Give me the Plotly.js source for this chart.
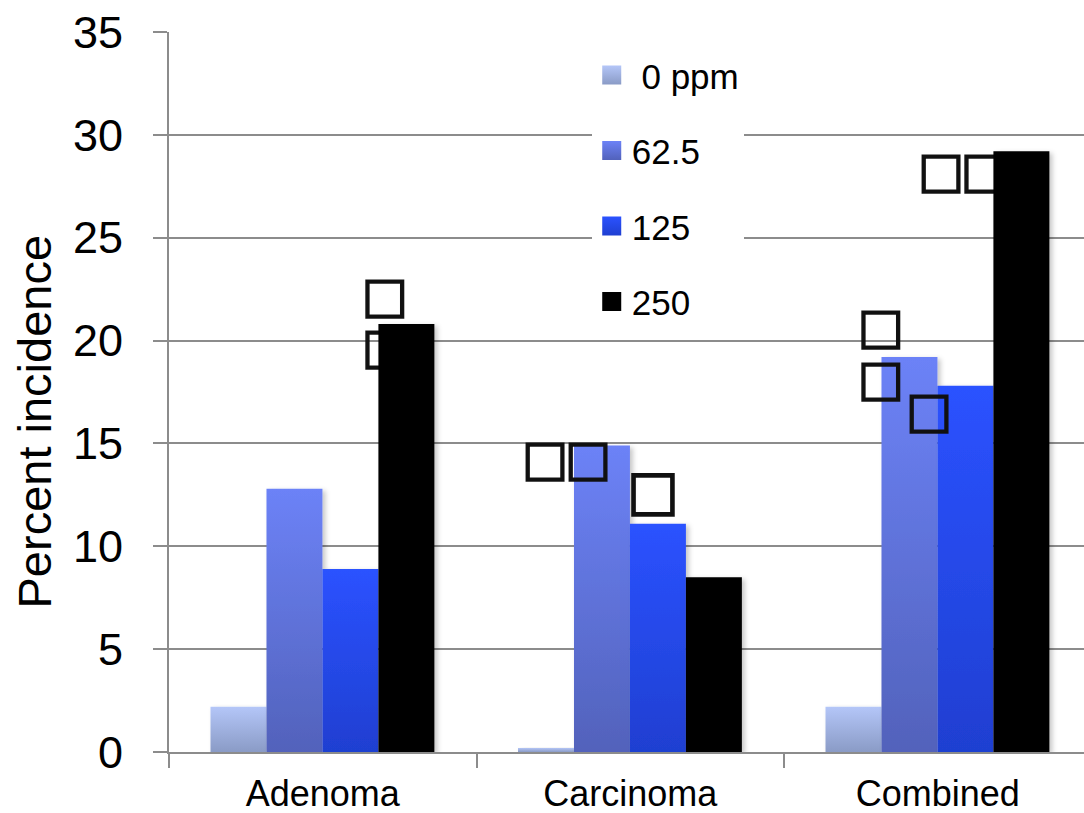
<!DOCTYPE html>
<html><head><meta charset="utf-8">
<script src="https://cdn.plot.ly/plotly-3.0.1.min.js"></script>
<style>html,body{margin:0;padding:0;background:#fff}</style>
</head><body>
<div id="chart" style="width:1084px;height:813px"></div>
<script>
// ---- data ----
const categories = ['Adenoma', 'Carcinoma', 'Combined'];
const seriesNames = ['\u00a00 ppm', '62.5', '125', '250'];
const ppm0   = [2.2, 0.2, 2.2];
const ppm62  = [12.8, 14.9, 19.2];
const ppm125 = [8.9, 11.1, 17.8];
const ppm250 = [20.8, 8.5, 29.2];
const yTickVals = [0, 5, 10, 15, 20, 25, 30, 35];
const yTitle = 'Percent incidence';
// significance markers (glyph boxes)
const markX = [0.202, 0.202, 0.723, 0.863, 1.074, 2.011, 2.150, 1.815, 1.815, 1.972];
const markY = [22.0, 19.5, 14.05, 14.05, 12.5, 28.05, 28.05, 20.5, 17.95, 16.4];
const markText = ['□','□','□','□','□','□','□','□','□','□'];
const markSize = [49, 49, 49, 49, 55, 49, 49, 49, 49, 49];

// ---- styles ----
const topColors = ['#b4c6f8', '#6c82f7', '#2b52ff', '#000000'];
const botColors = ['#8a9bc6', '#5262bb', '#1f3fd1', '#000000'];
const gray = '#8c8c8c';
const font = 'Liberation Sans, Arial, sans-serif';
const barW = 0.182;
const offsets = [-0.365, -0.183, -0.001, 0.181];
const seriesVals = [ppm0, ppm62, ppm125, ppm250];
const xIdx = categories.map((c, i) => i);

const traces = [];
// marker glyph text (under the 250 bars, above the others)
traces.push({
  type: 'scatter', mode: 'text', x: markX, y: markY, text: markText,
  textposition: 'middle center',
  textfont: {family: 'DejaVu Sans', size: markSize, color: '#111'},
  showlegend: false, hoverinfo: 'skip', xaxis: 'x', yaxis: 'y'
});
seriesVals.forEach((vals, k) => {
  traces.push({
    type: 'bar', name: seriesNames[k], x: xIdx, y: vals,
    width: barW, offset: offsets[k],
    marker: {color: topColors[k], line: {width: 0}},
    legendgroup: 'g' + k,
    xaxis: k === 3 ? 'x2' : 'x', yaxis: k === 3 ? 'y2' : 'y',
    hoverinfo: 'skip'
  });
});

const xr = [-0.5, 2.4756];
const layout = {
  width: 1084, height: 813,
  margin: {l: 169, r: 0, t: 32, b: 61},
  paper_bgcolor: '#fff', plot_bgcolor: 'rgba(0,0,0,0)',
  font: {family: font, color: '#000'},
  barmode: 'overlay',
  showlegend: true,
  legend: {
    x: 0.462, y: 0.981, xanchor: 'left', yanchor: 'top',
    bgcolor: '#fff', font: {size: 35, family: font}, tracegroupgap: 27,
    traceorder: 'grouped', borderwidth: 0
  },
  annotations: [{
    text: yTitle, xref: 'paper', yref: 'paper',
    x: (33.5 - 169) / 915, y: (752 - 422) / 720,
    xanchor: 'center', yanchor: 'middle', textangle: -90, showarrow: false,
    font: {size: 47, family: font, color: '#000'}
  }],
  xaxis: {
    range: xr, tickmode: 'array', tickvals: xIdx, ticktext: categories,
    ticks: '', showgrid: false, zeroline: false,
    showline: true, linecolor: gray, linewidth: 2,
    tickfont: {size: 36, family: font}, ticklabelstandoff: 9,
    minor: {ticks: 'outside', ticklen: 14, tickwidth: 2, tickcolor: gray,
            tickmode: 'linear', tick0: -0.5, dtick: 1, showgrid: false}
  },
  yaxis: {
    range: [0, 35], tickmode: 'array', tickvals: yTickVals,
    ticks: 'outside', ticklen: 14, tickwidth: 2, tickcolor: gray,
    showline: true, linecolor: gray, linewidth: 2,
    showgrid: true, gridcolor: gray, gridwidth: 2, zeroline: false,
    tickfont: {size: 45, family: font}, ticklabelstandoff: 21
  },
  xaxis2: {overlaying: 'x', range: xr, visible: false},
  yaxis2: {overlaying: 'y', range: [0, 35], visible: false}
};

const gd = document.getElementById('chart');
Plotly.newPlot(gd, traces, layout, {staticPlot: true}).then(() => {
  const NS = 'http://www.w3.org/2000/svg';
  const svg = gd.querySelector('svg.main-svg');
  let defs = svg.querySelector('defs');
  if (!defs) { defs = document.createElementNS(NS, 'defs'); svg.insertBefore(defs, svg.firstChild); }
  const map = {};
  topColors.forEach((c, k) => {
    const g = document.createElementNS(NS, 'linearGradient');
    g.setAttribute('id', 'grad' + k);
    g.setAttribute('x1', '0'); g.setAttribute('y1', '0');
    g.setAttribute('x2', '0'); g.setAttribute('y2', '1');
    [[0, topColors[k]], [1, botColors[k]]].forEach(([o, col]) => {
      const s = document.createElementNS(NS, 'stop');
      s.setAttribute('offset', o); s.setAttribute('stop-color', col);
      g.appendChild(s);
    });
    defs.appendChild(g);
    const tmp = document.createElement('div'); tmp.style.color = c; document.body.appendChild(tmp);
    map[getComputedStyle(tmp).color.replace(/\s/g, '')] = 'url(#grad' + k + ')';
    tmp.remove();
  });
  const f = document.createElementNS(NS, 'filter');
  f.setAttribute('id', 'barshadow');
  f.setAttribute('x', '-20%'); f.setAttribute('y', '-5%');
  f.setAttribute('width', '140%'); f.setAttribute('height', '110%');
  const ds = document.createElementNS(NS, 'feDropShadow');
  ds.setAttribute('dx', '3'); ds.setAttribute('dy', '2');
  ds.setAttribute('stdDeviation', '2.5');
  ds.setAttribute('flood-color', '#000'); ds.setAttribute('flood-opacity', '0.22');
  f.appendChild(ds); defs.appendChild(f);

  gd.querySelectorAll('.barlayer .point path').forEach(p => {
    const c = (p.style.fill || '').replace(/\s/g, '');
    if (map[c]) p.style.fill = map[c];
    p.style.filter = 'url(#barshadow)';
  });
  gd.querySelectorAll('.legend .legendpoints path').forEach(p => {
    const c = (p.style.fill || '').replace(/\s/g, '');
    if (map[c]) p.style.fill = map[c];
    p.setAttribute('d', 'M9.5,9.5H-9.5V-9.5H9.5Z');
  });
  gd.querySelectorAll('.scatterlayer .textpoint text').forEach(t => {
    t.style.stroke = '#111';
    t.style.strokeWidth = '1.6px';
  });
});
</script>
</body></html>
